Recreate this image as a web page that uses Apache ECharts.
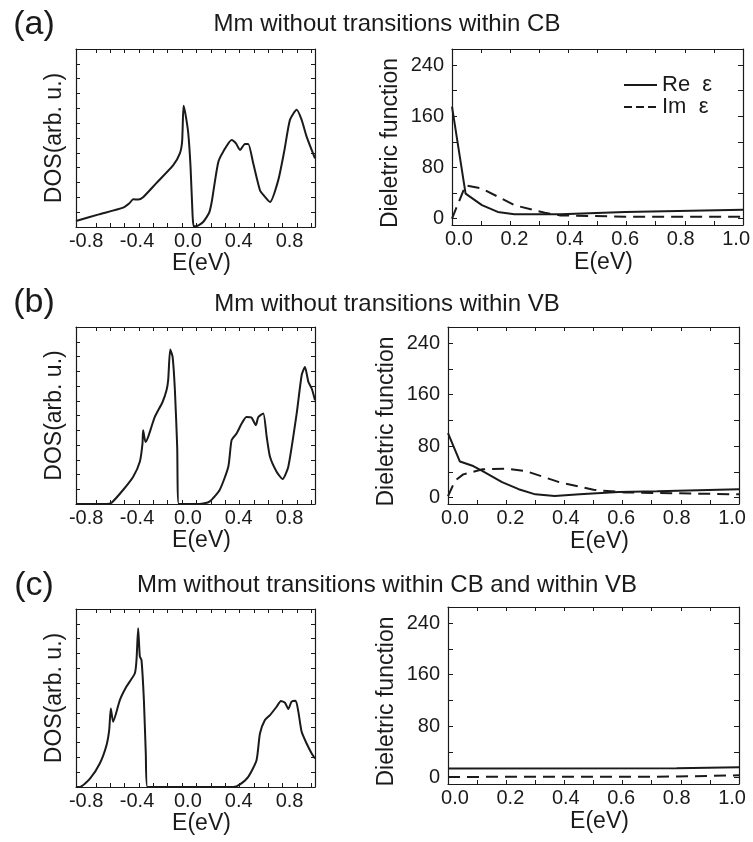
<!DOCTYPE html>
<html>
<head>
<meta charset="utf-8">
<script src="https://cdn.jsdelivr.net/npm/echarts@6/dist/echarts.min.js"></script>
<style>
  html, body { margin: 0; padding: 0; background: #ffffff; }
  #chart { width: 753px; height: 842px; }
</style>
</head>
<body>
<div id="chart"></div>
<script>
// ---- captions ----
const panelLetters = ['(a)', '(b)', '(c)'];
const panelTitles = [
  'Mm without transitions within CB',
  'Mm without transitions within VB',
  'Mm without transitions within CB and within VB'
];
const legendNames = ['Re  \u03b5', 'Im  \u03b5'];

// ---- axis ranges, tick labels and tick marks ----
const dosXRange = [-0.88, 1.0];
const dosYRange = [0, 12];
const dosXLabels = [-0.8, -0.4, 0.0, 0.4, 0.8];
const dosXTicks = [-0.724, -0.611, -0.498, -0.385, -0.272, -0.159, -0.046, 0.067, 0.180,
                   0.293, 0.406, 0.519, 0.632, 0.745, 0.858, 0.971];
const dosYTicks = [1, 2, 3, 4, 5, 6, 7, 8, 9, 10, 11];

const epsXRange = [-0.025, 1.025];
const epsYRange = [-10, 265];
const epsXLabels = [0.0, 0.2, 0.4, 0.6, 0.8, 1.0];
const epsXTicks = [0.08, 0.185, 0.29, 0.395, 0.5, 0.605, 0.71, 0.815, 0.92];
const epsYLabels = [0, 80, 160, 240];
const epsYTicks = [0, 40, 80, 120, 160, 200, 240];

// ---- density of states, panel (a) ----
const dosA_E = [-0.88, -0.7, -0.509, -0.46, -0.43, -0.39, -0.35, -0.25, -0.115, -0.063, -0.045,
  -0.034, -0.018, 0.003, 0.021, 0.037, 0.045, 0.06, 0.09, 0.12, 0.15, 0.17, 0.19, 0.21, 0.24,
  0.278, 0.344, 0.378, 0.41, 0.449, 0.475, 0.514, 0.567, 0.60, 0.646, 0.711, 0.76, 0.803,
  0.856, 0.895, 0.934, 1.0];
const dosA_V = [0.41, 0.85, 1.31, 1.6, 1.87, 1.85, 2.03, 2.94, 4.17, 4.96, 5.8,
  8.17, 7.56, 6.32, 4.06, 0.8, 0.05, 0.05, 0.15, 0.34, 0.7, 1.02, 1.8, 2.93, 4.4,
  5.08, 5.87, 5.64, 5.19, 5.6, 5.6, 4.29, 2.48, 2.1, 1.69, 3.16, 5.2, 7.22,
  7.9, 7.22, 6.09, 4.62];

// ---- density of states, panel (b) ----
const dosB_E = [-0.88, -0.64, -0.60, -0.51, -0.43, -0.378, -0.357, -0.352, -0.333, -0.312,
  -0.26, -0.2, -0.168, -0.155, -0.139, -0.12, -0.102, -0.084, -0.071, 0.09, 0.17, 0.25,
  0.318, 0.344, 0.383, 0.42, 0.46, 0.50, 0.535, 0.554, 0.593, 0.62, 0.646, 0.698, 0.745,
  0.79, 0.856, 0.895, 0.921, 0.948, 0.974, 1.0];
const dosB_V = [0, 0, 0.09, 0.95, 1.85, 2.86, 4.1, 5.0, 4.2, 4.56,
  5.9, 6.9, 7.71, 8.39, 10.47, 9.97, 7.71, 3.88, 0, 0, 0.16, 0.95,
  2.53, 4.33, 4.78, 5.4, 5.9, 5.86, 5.35, 5.9, 6.14, 4.56, 3.2, 2.19, 1.69,
  2.53, 6.14, 8.73, 9.29, 8.28, 7.83, 7.04];

// ---- density of states, panel (c) ----
const dosC_E = [-0.88, -0.85, -0.77, -0.693, -0.64, -0.619, -0.606, -0.588, -0.535, -0.483,
  -0.417, -0.404, -0.391, -0.378, -0.365, -0.346, -0.331, -0.318, 0.357, 0.41, 0.475, 0.54,
  0.567, 0.606, 0.646, 0.698, 0.732, 0.764, 0.79, 0.816, 0.848, 0.869, 0.895, 0.934, 0.974, 1.0];
const dosC_V = [0, 0, 0.56, 1.58, 2.82, 3.83, 5.3, 4.4, 5.86, 6.77,
  7.67, 8.57, 10.7, 8.8, 8.57, 5.86, 2.26, 0, 0, 0.18, 0.68, 1.8,
  3.61, 4.51, 4.85, 5.41, 5.8, 5.68, 5.26, 5.75, 5.82, 5.08, 3.72, 2.93, 2.26, 1.92];

// ---- dielectric function, panel (a) ----
const epsA_ReE = [-0.025, 0.024, 0.083, 0.14, 0.2, 0.366, 0.6, 1.025];
const epsA_ReV = [175, 39, 21, 10.4, 6.8, 6.8, 10.4, 14];
const epsA_ImE = [-0.025, 0.024, 0.083, 0.2, 0.31, 0.366, 0.6, 1.025];
const epsA_ImV = [0, 52, 47, 21, 9, 5, 3, 3];

// ---- dielectric function, panel (b) ----
const epsB_ReE = [-0.025, 0.018, 0.066, 0.1, 0.17, 0.23, 0.29, 0.36, 0.45, 0.59, 0.73, 1.025];
const epsB_ReV = [100, 56, 49, 41, 24, 13, 5, 2.6, 5, 8.8, 10, 13];
const epsB_ImE = [-0.025, 0.0, 0.03, 0.1, 0.185, 0.257, 0.376, 0.5, 0.615, 1.025];
const epsB_ImV = [2, 26, 36, 44, 45, 41, 24, 12, 8, 5];

// ---- dielectric function, panel (c) ----
const epsC_ReE = [-0.025, 0.8, 1.025];
const epsC_ReV = [14, 14.5, 16];
const epsC_ImE = [-0.025, 0.8, 1.025];
const epsC_ImV = [1, 1.5, 3.6];

// ---------------------------------------------------------------
const FONT = '"Liberation Sans", Arial, Helvetica, sans-serif';
const INK = '#1a1a1a';
const zip = (xs, ys) => xs.map((x, i) => [x, ys[i]]);

// plot boxes: three DOS panels on the left, three dielectric panels on the right
const grids = [
  { left: 76, top: 49, width: 239, height: 178 },
  { left: 452, top: 49, width: 292, height: 176 },
  { left: 76, top: 327, width: 239, height: 177 },
  { left: 448, top: 327, width: 291, height: 177 },
  { left: 76, top: 609, width: 239, height: 178 },
  { left: 448, top: 607, width: 291, height: 177 }
];

const lineAxis = { show: true, onZero: false, lineStyle: { color: INK, width: 1.2 } };
const fmt1 = v => Number(v).toFixed(1);

const xAxes = [];
const yAxes = [];
grids.forEach((g, i) => {
  const isDos = i % 2 === 0;
  const xr = isDos ? dosXRange : epsXRange;
  const yr = isDos ? dosYRange : epsYRange;
  const xt = isDos ? dosXTicks : epsXTicks;
  const yt = isDos ? dosYTicks : epsYTicks;
  // bottom axis with labels
  xAxes.push({
    type: 'value', gridIndex: i, position: 'bottom', min: xr[0], max: xr[1],
    axisLine: lineAxis, splitLine: { show: false },
    axisTick: { show: true, inside: true, length: 4, customValues: xt, lineStyle: { color: INK } },
    axisLabel: {
      show: true, customValues: isDos ? dosXLabels : epsXLabels, formatter: fmt1,
      margin: 4, fontSize: 20, color: INK, fontFamily: FONT
    },
    name: 'E(eV)', nameLocation: 'middle', nameGap: isDos ? 23 : 26,
    nameTextStyle: { fontSize: 23, color: INK, fontFamily: FONT, padding: [0, 0, 0, 12] }
  });
  // top mirror axis (ticks only)
  xAxes.push({
    type: 'value', gridIndex: i, position: 'top', min: xr[0], max: xr[1],
    axisLine: lineAxis, splitLine: { show: false },
    axisTick: { show: true, inside: true, length: 4, customValues: xt, lineStyle: { color: INK } },
    axisLabel: { show: false }
  });
  // left axis
  yAxes.push({
    type: 'value', gridIndex: i, position: 'left', min: yr[0], max: yr[1],
    axisLine: lineAxis, splitLine: { show: false },
    axisTick: { show: true, inside: true, length: isDos ? 4 : 5, customValues: yt, lineStyle: { color: INK } },
    axisLabel: isDos ? { show: false } : {
      show: true, customValues: epsYLabels, margin: 8, fontSize: 20, color: INK, fontFamily: FONT
    },
    name: isDos ? 'DOS(arb. u.)' : 'Dieletric function',
    nameLocation: 'middle', nameRotate: 90, nameGap: isDos ? 10 : 50,
    nameTextStyle: { fontSize: 23, color: INK, fontFamily: FONT,
                     padding: isDos ? [0, 0, 0, 0] : [0, 12, 0, 0] }
  });
  // right mirror axis (ticks only)
  yAxes.push({
    type: 'value', gridIndex: i, position: 'right', min: yr[0], max: yr[1],
    axisLine: lineAxis, splitLine: { show: false },
    axisTick: { show: true, inside: true, length: isDos ? 4 : 5, customValues: yt, lineStyle: { color: INK } },
    axisLabel: { show: false }
  });
});

const solid = { color: INK, width: 2, type: 'solid' };
const dashed = { color: INK, width: 2, type: [12, 7] };
const curve = (name, gi, data, style, smooth) => ({
  name, type: 'line', xAxisIndex: 2 * gi, yAxisIndex: 2 * gi, data,
  showSymbol: false, symbol: 'none', smooth: smooth || false,
  lineStyle: style, itemStyle: { color: INK }, animation: false, clip: true
});

const series = [
  curve('DOS a', 0, zip(dosA_E, dosA_V), solid, 0.2),
  curve(legendNames[0], 1, zip(epsA_ReE, epsA_ReV), solid),
  curve(legendNames[1], 1, zip(epsA_ImE, epsA_ImV), dashed),
  curve('DOS b', 2, zip(dosB_E, dosB_V), solid, 0.2),
  curve(legendNames[0], 3, zip(epsB_ReE, epsB_ReV), solid),
  curve(legendNames[1], 3, zip(epsB_ImE, epsB_ImV), dashed),
  curve('DOS c', 4, zip(dosC_E, dosC_V), solid, 0.2),
  curve(legendNames[0], 5, zip(epsC_ReE, epsC_ReV), solid),
  curve(legendNames[1], 5, zip(epsC_ImE, epsC_ImV), dashed)
];

// panel letters and headings
const letterY = [25, 303, 586];
const titleY = [24, 304, 585];
const graphic = [];
panelLetters.forEach((t, i) => {
  graphic.push({
    type: 'text', x: 34, y: letterY[i],
    style: { text: t, fontSize: 34, fontFamily: FONT, fill: INK, align: 'center', verticalAlign: 'middle' }
  });
  graphic.push({
    type: 'text', x: 387, y: titleY[i],
    style: { text: panelTitles[i], fontSize: 24, fontFamily: FONT, fill: INK, align: 'center', verticalAlign: 'middle' }
  });
});

const chart = echarts.init(document.getElementById('chart'), null, { renderer: 'canvas' });
chart.setOption({
  backgroundColor: '#ffffff',
  animation: false,
  grid: grids,
  xAxis: xAxes,
  yAxis: yAxes,
  legend: {
    data: [
      { name: legendNames[0], itemStyle: { opacity: 0 }, lineStyle: { type: 'solid', width: 2, color: INK } },
      { name: legendNames[1], itemStyle: { opacity: 0 }, lineStyle: { type: [8, 4], width: 2, color: INK } }
    ],
    orient: 'vertical', left: 618, top: 69,
    itemWidth: 33, itemHeight: 14, itemGap: 0, selectedMode: false,
    textStyle: { fontSize: 22, lineHeight: 21, color: INK, fontFamily: FONT }
  },
  graphic,
  series
});
</script>
</body>
</html>
